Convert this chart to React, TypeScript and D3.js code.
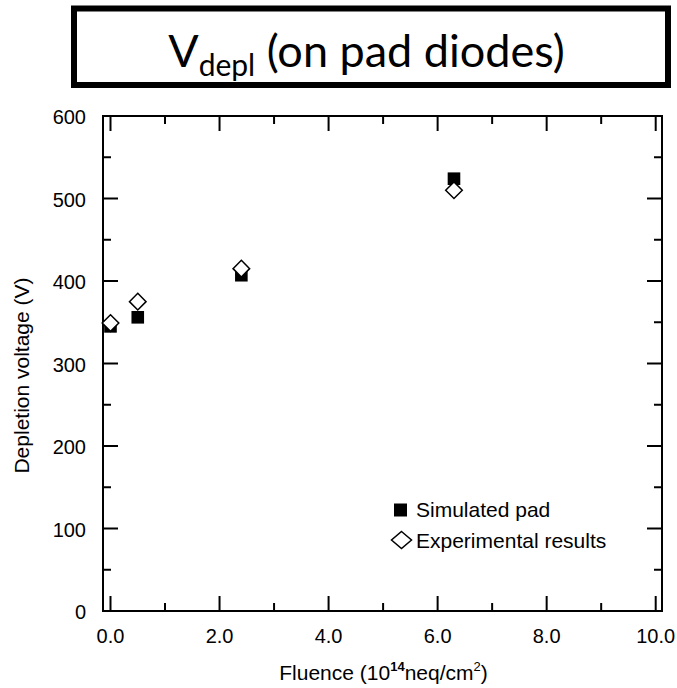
import React from "react";
import * as d3 from "d3";

const fluence = [0, 0.5, 2.4, 6.3];
const simulatedPad = [345, 356, 407, 524];
const experimental = [349, 375, 415, 510];
const xMajorTicks = [0, 2, 4, 6, 8, 10];
const xMinorTicks = [1, 3, 5, 7, 9];
const yMajorTicks = [0, 100, 200, 300, 400, 500, 600];
const yMinorTicks = [50, 150, 250, 350, 450, 550];
const legendLabels = ["Simulated pad", "Experimental results"];

const W = 677;
const H = 688;
const frame = { left: 103, right: 662, top: 116, bottom: 611 };

export default function App() {
  const x = d3.scaleLinear().domain([0, 10]).range([110.5, 655.7]);
  const y = d3.scaleLinear().domain([0, 600]).range([611, 116]);
  const axisFont = "'Liberation Sans', Arial, sans-serif";
  const titleFont = "Lato, 'Open Sans', sans-serif";
  const majorLen = 15;
  const minorLen = 8;
  const sq = 12.6;
  const dw = 8.3;
  const diamond = (cx: number, cy: number, hw: number, hh: number) =>
    `M${cx},${cy - hh}L${cx + hw},${cy}L${cx},${cy + hh}L${cx - hw},${cy}Z`;

  return (
    <svg
      width={W}
      height={H}
      style={{ position: "absolute", left: 0, top: 0, background: "#fff" }}
    >
      <rect x={0} y={0} width={W} height={H} fill="#fff" />
      {/* Title box */}
      <rect x={74} y={8.5} width={594} height={76.5} fill="#fff" stroke="#000" strokeWidth={6} />
      <text x={366.5} y={67} textAnchor="middle" fontFamily={titleFont} fontSize={45} fill="#000">
        V<tspan fontSize={30} dy={9}>depl</tspan>
        <tspan dy={-9}> (on pad diodes)</tspan>
      </text>

      {/* Frame */}
      <rect
        x={frame.left}
        y={frame.top}
        width={frame.right - frame.left}
        height={frame.bottom - frame.top}
        fill="none"
        stroke="#000"
        strokeWidth={2}
      />
      {/* X ticks bottom and top */}
      {xMajorTicks.map((t) => (
        <g key={"xM" + t}>
          <line x1={x(t)} x2={x(t)} y1={frame.bottom} y2={frame.bottom - majorLen} stroke="#000" strokeWidth={2} />
          <line x1={x(t)} x2={x(t)} y1={frame.top} y2={frame.top + majorLen} stroke="#000" strokeWidth={2} />
          <text x={x(t)} y={643} textAnchor="middle" fontFamily={axisFont} fontSize={20} fill="#000">
            {t.toFixed(1)}
          </text>
        </g>
      ))}
      {xMinorTicks.map((t) => (
        <g key={"xm" + t}>
          <line x1={x(t)} x2={x(t)} y1={frame.bottom} y2={frame.bottom - minorLen} stroke="#000" strokeWidth={2} />
          <line x1={x(t)} x2={x(t)} y1={frame.top} y2={frame.top + minorLen} stroke="#000" strokeWidth={2} />
        </g>
      ))}
      {/* Y ticks left and right */}
      {yMajorTicks.map((t) => (
        <g key={"yM" + t}>
          <line x1={frame.left} x2={frame.left + majorLen} y1={y(t)} y2={y(t)} stroke="#000" strokeWidth={2} />
          <line x1={frame.right} x2={frame.right - majorLen} y1={y(t)} y2={y(t)} stroke="#000" strokeWidth={2} />
          <text x={86} y={y(t) + 8} textAnchor="end" fontFamily={axisFont} fontSize={20} fill="#000">
            {t}
          </text>
        </g>
      ))}
      {yMinorTicks.map((t) => (
        <g key={"ym" + t}>
          <line x1={frame.left} x2={frame.left + minorLen} y1={y(t)} y2={y(t)} stroke="#000" strokeWidth={2} />
          <line x1={frame.right} x2={frame.right - minorLen} y1={y(t)} y2={y(t)} stroke="#000" strokeWidth={2} />
        </g>
      ))}

      {/* Axis titles */}
      <text x={383.5} y={680} textAnchor="middle" fontFamily={axisFont} fontSize={21} fill="#000">
        Fluence (10<tspan fontSize={13} dy={-9} fontWeight="bold">14</tspan>
        <tspan dy={9}>neq/cm</tspan>
        <tspan fontSize={13} dy={-9}>2</tspan>
        <tspan dy={9}>)</tspan>
      </text>
      <text
        transform={`translate(${29},${375.5}) rotate(-90)`}
        textAnchor="middle"
        fontFamily={axisFont}
        fontSize={21}
        fill="#000"
      >
        Depletion voltage (V)
      </text>

      {/* Data: simulated squares */}
      {fluence.map((f, i) => (
        <rect
          key={"s" + i}
          x={x(f) - sq / 2}
          y={y(simulatedPad[i]) - sq / 2}
          width={sq}
          height={sq}
          fill="#000"
        />
      ))}
      {/* Data: experimental diamonds */}
      {fluence.map((f, i) => (
        <path
          key={"e" + i}
          d={diamond(x(f), y(experimental[i]), dw, dw)}
          fill="#fff"
          stroke="#000"
          strokeWidth={1.5}
        />
      ))}

      {/* Legend */}
      <rect x={400.5 - 6.5} y={510 - 6.5} width={13} height={13} fill="#000" />
      <text x={416} y={517} fontFamily={axisFont} fontSize={21} fill="#000">
        {legendLabels[0]}
      </text>
      <path d={diamond(401.5, 540, 10, 8.5)} fill="#fff" stroke="#000" strokeWidth={1.5} />
      <text x={416} y={548} fontFamily={axisFont} fontSize={21} fill="#000">
        {legendLabels[1]}
      </text>
    </svg>
  );
}
